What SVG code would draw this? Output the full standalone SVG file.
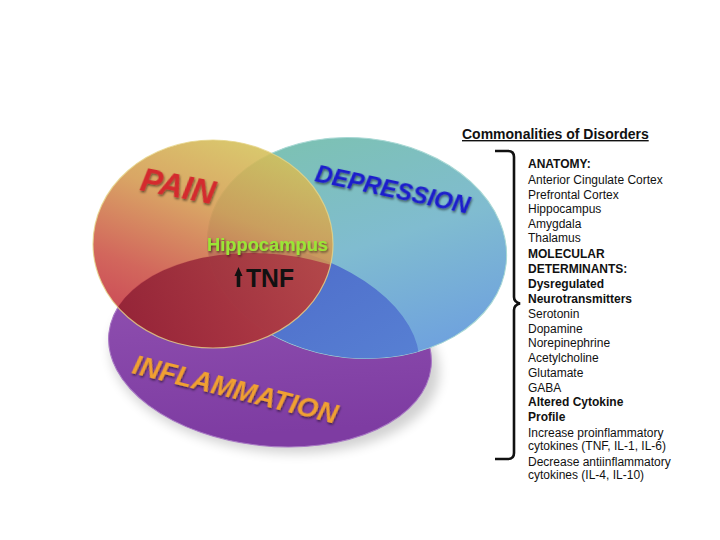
<svg xmlns="http://www.w3.org/2000/svg" width="720" height="540" viewBox="0 0 720 540">
  <defs>
    <linearGradient id="gPain" x1="0.7" y1="0" x2="0.25" y2="1">
      <stop offset="0" stop-color="#d4c45a"/>
      <stop offset="0.35" stop-color="#d49a50"/>
      <stop offset="0.7" stop-color="#cc5246"/>
      <stop offset="1" stop-color="#c2283e"/>
    </linearGradient>
    <linearGradient id="gDep" x1="0.2" y1="0" x2="0.8" y2="1">
      <stop offset="0" stop-color="#7cc2b0"/>
      <stop offset="0.5" stop-color="#80bcd0"/>
      <stop offset="1" stop-color="#6c9ee0"/>
    </linearGradient>
    <linearGradient id="gInf" x1="0" y1="0" x2="0.3" y2="1">
      <stop offset="0" stop-color="#9456b4"/>
      <stop offset="1" stop-color="#7e3ca2"/>
    </linearGradient>
    <linearGradient id="gDepInf" x1="0" y1="0" x2="1" y2="1">
      <stop offset="0" stop-color="#465cc2"/>
      <stop offset="1" stop-color="#5a86d6"/>
    </linearGradient>
    <linearGradient id="gPainInf" x1="0" y1="0" x2="1" y2="0">
      <stop offset="0" stop-color="#8a1e32"/>
      <stop offset="1" stop-color="#b03c46"/>
    </linearGradient>
    <clipPath id="cInf">
      <ellipse cx="270" cy="350" rx="162" ry="96" transform="rotate(6 270 350)"/>
    </clipPath>
    <filter id="soft" x="-20%" y="-20%" width="140%" height="140%">
      <feGaussianBlur stdDeviation="6"/>
    </filter>
    <filter id="tshadow" x="-10%" y="-30%" width="120%" height="160%">
      <feDropShadow dx="1" dy="1.5" stdDeviation="0.8" flood-color="#000" flood-opacity="0.55"/>
    </filter>
  </defs>
  <style>
    .big { font-family: "Liberation Sans", Arial, sans-serif; font-weight: bold; font-style: italic; }
    .list { font-family: "Liberation Sans", Arial, sans-serif; font-size: 12px; fill: #111; }
    .b { font-weight: bold; }
  </style>

  <g id="venn">
    <ellipse cx="275" cy="360" rx="165" ry="92" fill="#000" opacity="0.18" filter="url(#soft)" transform="rotate(6 275 360)"/>
    <g id="inflammation">
      <ellipse cx="270" cy="350" rx="162" ry="96" transform="rotate(6 270 350)" fill="url(#gInf)" stroke="#a878c4" stroke-width="1"/>
    </g>
    <g id="depression">
      <ellipse cx="357" cy="248" rx="150" ry="110" transform="rotate(6 357 248)" fill="url(#gDep)" stroke="#a8d8d4" stroke-width="1"/>
      <ellipse cx="357" cy="248" rx="150" ry="110" transform="rotate(6 357 248)" fill="url(#gDepInf)" clip-path="url(#cInf)"/>
    </g>
    <g id="pain">
      <ellipse cx="213" cy="244" rx="120" ry="104" fill="url(#gPain)" opacity="0.88"/>
      <ellipse cx="213" cy="244" rx="120" ry="104" fill="url(#gPainInf)" opacity="0.85" clip-path="url(#cInf)"/>
      <ellipse cx="213" cy="244" rx="120" ry="104" fill="none" stroke="#e6d488" stroke-width="1.2" opacity="0.8"/>
    </g>
    <text class="big" x="139" y="190" font-size="32.5" fill="#d42a2e" filter="url(#tshadow)" transform="rotate(11 139 190)">PAIN</text>
    <text class="big" x="314" y="181" font-size="24" fill="#1c1ccc" filter="url(#tshadow)" transform="rotate(12 314 181)">DEPRESSION</text>
    <text class="big" x="131" y="373" font-size="27.5" fill="#f0a030" filter="url(#tshadow)" transform="rotate(14 131 373)">INFLAMMATION</text>
    <g id="center-label">
      <text x="207" y="251" font-family="Liberation Sans, Arial, sans-serif" font-weight="bold" font-size="17.5" fill="#9ae636" textLength="121" lengthAdjust="spacingAndGlyphs" filter="url(#tshadow)">Hippocampus</text>
      <path d="M234.5 276 L238.5 267 L242.5 276 L240.3 276 L240.3 287 L236.7 287 L236.7 276 Z" fill="#111"/>
      <text x="246" y="287" font-family="Liberation Sans, Arial, sans-serif" font-weight="bold" font-size="25" fill="#111" textLength="48" lengthAdjust="spacingAndGlyphs">TNF</text>
    </g>
  </g>

  <g id="commonalities">
    <text x="462" y="139" font-family="Liberation Sans, Arial, sans-serif" font-weight="bold" font-size="14" fill="#111" text-decoration="underline">Commonalities of Disorders</text>
    <path d="M495 151 L508 151 Q514 151 514 157 L514 297 Q514 302 520 303.5 Q514 305 514 310 L514 453 Q514 459 508 459 L495 459" fill="none" stroke="#111" stroke-width="2.6"/>
    <text class="list b" x="528" y="168">ANATOMY:</text>
    <text class="list" x="528" y="184">Anterior Cingulate Cortex</text>
    <text class="list" x="528" y="198.5">Prefrontal Cortex</text>
    <text class="list" x="528" y="213">Hippocampus</text>
    <text class="list" x="528" y="227.5">Amygdala</text>
    <text class="list" x="528" y="242">Thalamus</text>
    <text class="list b" x="528" y="257.5">MOLECULAR</text>
    <text class="list b" x="528" y="273">DETERMINANTS:</text>
    <text class="list b" x="528" y="288">Dysregulated</text>
    <text class="list b" x="528" y="302.5">Neurotransmitters</text>
    <text class="list" x="528" y="318">Serotonin</text>
    <text class="list" x="528" y="333">Dopamine</text>
    <text class="list" x="528" y="347">Norepinephrine</text>
    <text class="list" x="528" y="362">Acetylcholine</text>
    <text class="list" x="528" y="377">Glutamate</text>
    <text class="list" x="528" y="392">GABA</text>
    <text class="list b" x="528" y="406">Altered Cytokine</text>
    <text class="list b" x="528" y="421">Profile</text>
    <text class="list" x="528" y="437">Increase proinflammatory</text>
    <text class="list" x="528" y="450">cytokines (TNF, IL-1, IL-6)</text>
    <text class="list" x="528" y="466">Decrease antiinflammatory</text>
    <text class="list" x="528" y="479">cytokines (IL-4, IL-10)</text>
  </g>
</svg>
